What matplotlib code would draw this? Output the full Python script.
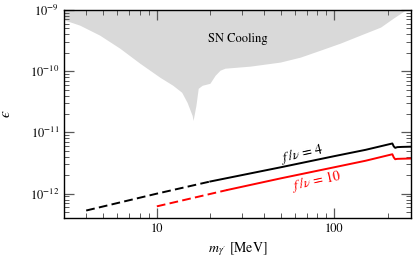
import numpy as np
import matplotlib
matplotlib.use("Agg")
from matplotlib import pyplot as plt
from matplotlib.ticker import LogLocator, NullFormatter, FixedLocator

plt.rcParams["font.family"] = ["STIXGeneral", "DejaVu Serif"]
plt.rcParams["mathtext.fontset"] = "stix"

# SN cooling lower edge (MeV, epsilon)
sn_m = [3.0, 3.67, 4.76, 6.18, 8.02, 10.4, 12.3, 13.8, 14.8, 15.8, 16.0, 16.6, 17.1, 18.0,
        19.9, 21.3, 22.7, 24.2, 33.5, 49.5, 64.3, 83.4, 108, 140, 182, 215, 242, 252, 256]
sn_eps = [6.9e-10, 5.67e-10, 3.89e-10, 2.38e-10, 1.35e-10, 7.97e-11, 5.89e-11, 4.53e-11, 3.1e-11,
          1.9e-11, 1.57e-11, 2.77e-11, 5.26e-11, 5.89e-11, 6.35e-11, 8.59e-11, 1.04e-10, 1.12e-10,
          1.21e-10, 1.41e-10, 1.7e-10, 2.21e-10, 2.88e-10, 3.89e-10, 5.26e-10, 7.39e-10, 9.27e-10,
          1.0e-9, 1.1e-9]

# f/v = 4 (black)
m4_dash = [4.0, 10.0, 20.0]
e4_dash = [5.3e-13, 1.0e-12, 1.58e-12]
m4_solid = [20.0, 50.0, 100.0, 150.0, 212.0, 216.0, 220.0, 226.0, 240.0, 270.0]
e4_solid = [1.58e-12, 2.7e-12, 4.1e-12, 5.2e-12, 6.6e-12, 5.9e-12, 5.6e-12, 5.75e-12, 5.8e-12, 5.85e-12]

# f/v = 10 (red)
m10_dash = [10.0, 25.0]
e10_dash = [6.2e-13, 1.15e-12]
m10_solid = [25.0, 50.0, 100.0, 150.0, 212.0, 216.0, 220.0, 226.0, 240.0, 270.0]
e10_solid = [1.15e-12, 1.78e-12, 2.7e-12, 3.45e-12, 4.4e-12, 3.9e-12, 3.65e-12, 3.7e-12, 3.72e-12, 3.75e-12]

fig = plt.figure(figsize=(4.15, 2.69), dpi=100)
ax = fig.add_axes([64/415, 1-218/269, (411-64)/415, (218-10)/269])

ax.fill_between(sn_m, sn_eps, 1e-8, color="#d9d9d9", lw=0)
ax.text(0.50, 0.86, "SN Cooling", transform=ax.transAxes, ha="center", va="center", fontsize=9)

ax.plot(m4_dash, e4_dash, color="k", lw=1.4, dashes=(4.5, 2.2))
ax.plot(m4_solid, e4_solid, color="k", lw=1.4)
ax.plot(m10_dash, e10_dash, color="red", lw=1.4, dashes=(4.5, 2.2))
ax.plot(m10_solid, e10_solid, color="red", lw=1.4)

ax.text(66, 4.5e-12, r"$f\;/\nu\,=\,4$", fontsize=10, rotation=12, ha="center", va="center")
ax.text(79, 1.63e-12, r"$f\;/\nu\,=\,10$", fontsize=10, rotation=12, ha="center", va="center", color="red")

ax.set_xscale("log")
ax.set_yscale("log")
ax.set_xlim(3, 270)
ax.set_ylim(4e-13, 1e-9)

ax.xaxis.set_major_locator(FixedLocator([10, 100]))
ax.set_xticklabels(["10", "100"])
ax.xaxis.set_minor_locator(LogLocator(base=10, subs=np.arange(2, 10)))
ax.xaxis.set_minor_formatter(NullFormatter())
ax.yaxis.set_major_locator(FixedLocator([1e-12, 1e-11, 1e-10, 1e-9]))
ax.set_yticklabels([r"$10^{-12}$", r"$10^{-11}$", r"$10^{-10}$", r"$10^{-9}$"])
ax.yaxis.set_minor_locator(LogLocator(base=10, subs=np.arange(2, 10)))
ax.yaxis.set_minor_formatter(NullFormatter())

ax.tick_params(which="both", direction="in", top=True, right=True, color="0.35", labelsize=9)
ax.tick_params(which="major", length=7, width=0.9)
ax.tick_params(which="minor", length=3.6, width=0.7)
for s in ax.spines.values():
    s.set_linewidth(1.0)

ax.set_xlabel(r"$m_{\gamma'}$ [MeV]", fontsize=10)
ax.set_ylabel("$\u03f5$", fontsize=11, labelpad=12)

fig.savefig("out.png", dpi=100)
